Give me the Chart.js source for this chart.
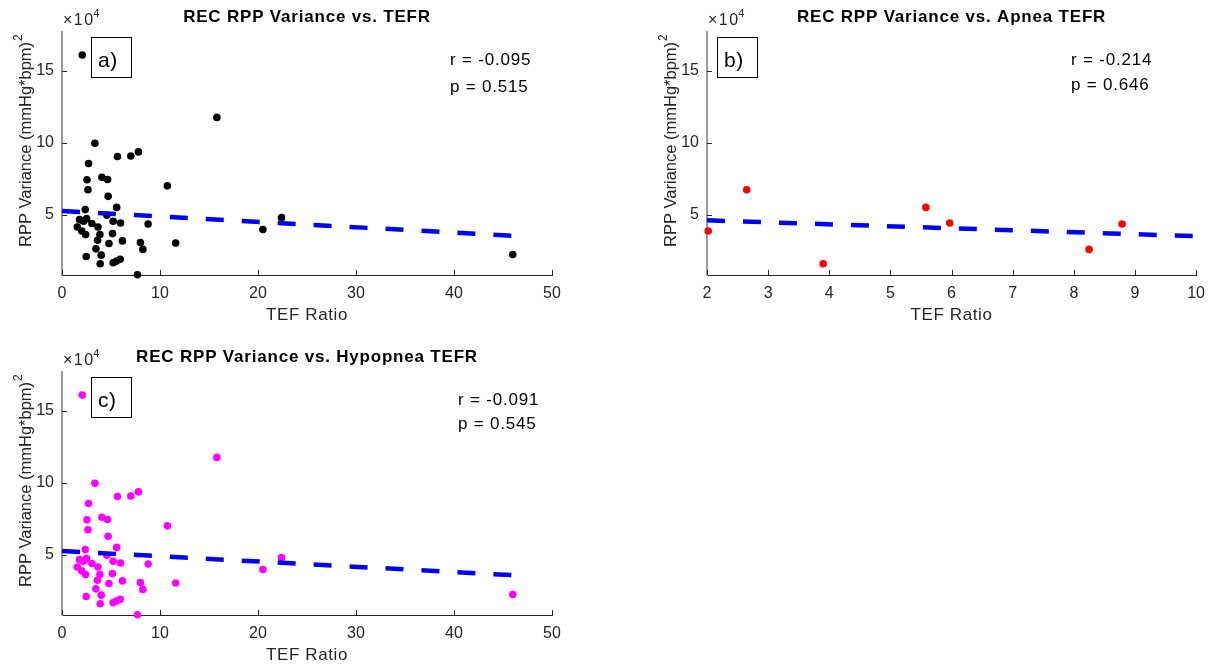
<!DOCTYPE html>
<html>
<head>
<meta charset="utf-8">
<script src="https://cdn.jsdelivr.net/npm/chart.js@4.4.1/dist/chart.umd.min.js"></script>
<style>
  html, body { margin: 0; padding: 0; background: #ffffff; }
  body { width: 1214px; height: 668px; position: relative; overflow: hidden; }
  canvas { position: absolute; display: block; }
</style>
</head>
<body>
<canvas id="panelA" style="left:0px;top:0px"></canvas>
<canvas id="panelB" style="left:645px;top:0px"></canvas>
<canvas id="panelC" style="left:0px;top:340px"></canvas>
<script>
// TEF ratio and recovery RPP variance, all events
const tefr = [3.36, 5.66, 7.02, 7.80, 2.71, 4.07, 4.65, 2.55, 2.65, 4.71,
              5.58, 2.37, 4.58, 5.22, 5.97, 8.79, 1.79, 2.51, 2.20, 1.56,
              2.02, 2.41, 3.05, 3.67, 3.87, 3.63, 5.15, 4.79, 6.17, 8.00,
              8.25, 3.46, 4.00, 2.47, 3.90, 5.22, 5.56, 5.94, 7.70, 2.07,
              15.8, 10.75, 11.6, 20.5, 22.4, 46.0];
const rppVar = [99600, 90400, 90800, 93600, 85500, 76000, 74400, 74200, 67300, 62700,
                55000, 53500, 49500, 45400, 44200, 43500, 46500, 47200, 45400, 41400,
                38600, 36100, 43800, 41400, 36100, 32200, 36800, 29900, 31700, 30600,
                25800, 26200, 21800, 20900, 15800, 16500, 17700, 19000, 8200, 161000,
                117600, 70000, 30300, 39600, 47900, 22300];

// Apnea events
const apneaTefr = [2.02, 2.65, 3.90, 5.58, 5.97, 8.25, 8.79];
const apneaRppVar = [38600, 67300, 15800, 55000, 44200, 25800, 43500];

// Hypopnea events
const hypopneaTefr = [3.36, 5.66, 7.02, 7.80, 2.71, 4.07, 4.65, 2.55, 2.65, 4.71,
                      5.58, 2.37, 4.58, 5.22, 5.97, 8.79, 1.79, 2.51, 2.20, 1.56,
                      2.02, 2.41, 3.05, 3.67, 3.87, 3.63, 5.15, 4.79, 6.17, 8.00,
                      8.25, 3.46, 4.00, 2.47, 3.90, 5.22, 5.56, 5.94, 7.70, 2.07,
                      15.8, 10.75, 11.6, 20.5, 22.4, 46.0];
const hypopneaRppVar = [99600, 90400, 90800, 93600, 85500, 76000, 74400, 74200, 67300, 62700,
                        55000, 53500, 49500, 45400, 44200, 43500, 46500, 47200, 45400, 41400,
                        38600, 36100, 43800, 41400, 36100, 32200, 36800, 29900, 31700, 30600,
                        25800, 26200, 21800, 20900, 15800, 16500, 17700, 19000, 8200, 161000,
                        117600, 70000, 30300, 39600, 47900, 22300];

// Least-squares fit end points
const fitAllX = [0, 46.0];
const fitAllY = [52500, 35200];
const fitApneaX = [2, 10];
const fitApneaY = [46000, 35000];
const fitHypoX = [0, 46.0];
const fitHypoY = [52500, 35700];

// Correlation results
const rValues = ['-0.095', '-0.214', '-0.091'];
const pValues = ['0.515', '0.646', '0.545'];

const titles = ['REC RPP Variance vs. TEFR', 'REC RPP Variance vs. Apnea TEFR', 'REC RPP Variance vs. Hypopnea TEFR'];
const panelTags = ['a)', 'b)', 'c)'];
const yTicks = [50000, 100000, 150000];
const yRange = [8000, 177000];

const FONT = '"Liberation Sans", Arial, Helvetica, sans-serif';
const AXIS = '#262626';

const decor = {
  id: 'decor',
  afterDraw(chart, args, o) {
    const ctx = chart.ctx;
    const a = chart.chartArea;
    const xs = chart.scales.x, ys = chart.scales.y;
    ctx.save();

    // inward tick marks
    ctx.strokeStyle = AXIS;
    ctx.lineWidth = 1;
    ctx.beginPath();
    xs.ticks.forEach(t => {
      const px = Math.round(xs.getPixelForValue(t.value)) + 0.5;
      ctx.moveTo(px, a.bottom);
      ctx.lineTo(px, a.bottom - 5);
    });
    ys.ticks.forEach(t => {
      const py = Math.round(ys.getPixelForValue(t.value)) + 0.5;
      ctx.moveTo(a.left, py);
      ctx.lineTo(a.left + 5, py);
    });
    ctx.stroke();

    const cx = (a.left + a.right) / 2;

    // title
    ctx.fillStyle = '#000000';
    ctx.font = 'bold 17px ' + FONT;
    ctx.letterSpacing = '0.8px';
    ctx.textAlign = 'center';
    ctx.textBaseline = 'alphabetic';
    ctx.fillText(o.title, cx, a.top - 10);

    // exponent label
    ctx.fillStyle = AXIS;
    ctx.letterSpacing = '1.5px';
    ctx.textAlign = 'left';
    ctx.font = '16px ' + FONT;
    const ex = '\u00d710';
    ctx.fillText(ex, a.left + 1, a.top - 7);
    const exW = ctx.measureText(ex).width;
    ctx.letterSpacing = '0px';
    ctx.font = '11px ' + FONT;
    ctx.fillText('4', a.left + exW - 0.5, a.top - 15);

    // x axis label
    ctx.font = '17px ' + FONT;
    ctx.letterSpacing = '0.6px';
    ctx.textAlign = 'center';
    ctx.fillText('TEF Ratio', cx, a.bottom + 45);

    // y axis label with superscript
    ctx.save();
    ctx.translate(a.left - 31, a.bottom - 28);
    ctx.rotate(-Math.PI / 2);
    ctx.letterSpacing = '0px';
    ctx.textAlign = 'left';
    ctx.font = '16.5px ' + FONT;
    const yl = 'RPP Variance (mmHg*bpm)';
    ctx.fillText(yl, 0, 0);
    const ylW = ctx.measureText(yl).width;
    ctx.font = '12px ' + FONT;
    ctx.fillText('2', ylW + 1, -9);
    ctx.restore();

    // panel tag box
    const bx = a.left + o.tagDx;
    const by = a.top + 5;
    ctx.strokeStyle = '#000000';
    ctx.lineWidth = 1;
    ctx.strokeRect(Math.round(bx) + 0.5, Math.round(by) + 0.5, 40, 40);
    ctx.fillStyle = '#000000';
    ctx.font = '21px ' + FONT;
    ctx.textAlign = 'left';
    ctx.fillText(o.tag, bx + 7, a.top + 35);

    // correlation text
    ctx.font = '17px ' + FONT;
    ctx.letterSpacing = '0.8px';
    ctx.fillText('r = ' + o.r, a.left + o.statDx, a.top + o.rDy);
    ctx.fillText('p = ' + o.p, a.left + o.statDx, a.top + o.pDy);

    ctx.restore();
  }
};

function pts(xs, ys) { return xs.map((x, i) => ({ x: x, y: ys[i] })); }

function makePanel(id, cfg) {
  const canvas = document.getElementById(id);
  canvas.width = cfg.w;
  canvas.height = cfg.h;
  canvas.style.width = cfg.w + 'px';
  canvas.style.height = cfg.h + 'px';
  return new Chart(canvas, {
    type: 'scatter',
    data: {
      datasets: [
        {
          data: pts(cfg.fitX, cfg.fitY),
          showLine: true,
          borderColor: '#0000ff',
          borderWidth: 4.5,
          borderDash: [18, 18],
          borderCapStyle: 'butt',
          pointRadius: 0,
          fill: false,
          order: 0,
          clip: false
        },
        {
          data: pts(cfg.xs, cfg.ys),
          backgroundColor: cfg.color,
          borderColor: cfg.color,
          borderWidth: 0,
          pointRadius: 3.8,
          order: 1,
          clip: false
        }
      ]
    },
    options: {
      responsive: false,
      animation: false,
      devicePixelRatio: 1,
      layout: { padding: { left: 0, top: 32, right: cfg.w - 552, bottom: 0 } },
      plugins: {
        legend: { display: false },
        tooltip: { enabled: false },
        decor: cfg.decor
      },
      scales: {
        x: {
          type: 'linear',
          min: cfg.xMin,
          max: cfg.xMax,
          ticks: { stepSize: cfg.xStep, color: AXIS, font: { family: FONT, size: 16 }, padding: 9, maxRotation: 0 },
          grid: { display: true, drawOnChartArea: false, drawTicks: false },
          border: { display: true, color: AXIS, width: 1 },
          afterFit: s => { s.height = cfg.h - 275; }
        },
        y: {
          type: 'linear',
          min: yRange[0],
          max: yRange[1],
          afterBuildTicks: s => { s.ticks = yTicks.map(v => ({ value: v })); },
          ticks: { color: AXIS, font: { family: FONT, size: 16 }, padding: 8, callback: v => String(v / 1e4) },
          grid: { display: true, drawOnChartArea: false, drawTicks: false },
          border: { display: true, color: '#9a9a9a', width: 2 },
          afterFit: s => { s.width = 62; }
        }
      }
    },
    plugins: [decor]
  });
}

makePanel('panelA', {
  w: 607, h: 334, xs: tefr, ys: rppVar, color: '#000000',
  fitX: fitAllX, fitY: fitAllY, xMin: 0, xMax: 50, xStep: 10,
  decor: { title: titles[0], tag: panelTags[0], r: rValues[0], p: pValues[0], tagDx: 29, statDx: 388, rDy: 32.6, pDy: 59.8 }
});

makePanel('panelB', {
  w: 569, h: 334, xs: apneaTefr, ys: apneaRppVar, color: '#ff0000',
  fitX: fitApneaX, fitY: fitApneaY, xMin: 2, xMax: 10, xStep: 1,
  decor: { title: titles[1], tag: panelTags[1], r: rValues[1], p: pValues[1], tagDx: 10, statDx: 364, rDy: 32.6, pDy: 57.6 }
});

makePanel('panelC', {
  w: 607, h: 328, xs: hypopneaTefr, ys: hypopneaRppVar, color: '#ff00ff',
  fitX: fitHypoX, fitY: fitHypoY, xMin: 0, xMax: 50, xStep: 10,
  decor: { title: titles[2], tag: panelTags[2], r: rValues[2], p: pValues[2], tagDx: 29, statDx: 396, rDy: 32.6, pDy: 56.6 }
});
</script>
</body>
</html>
